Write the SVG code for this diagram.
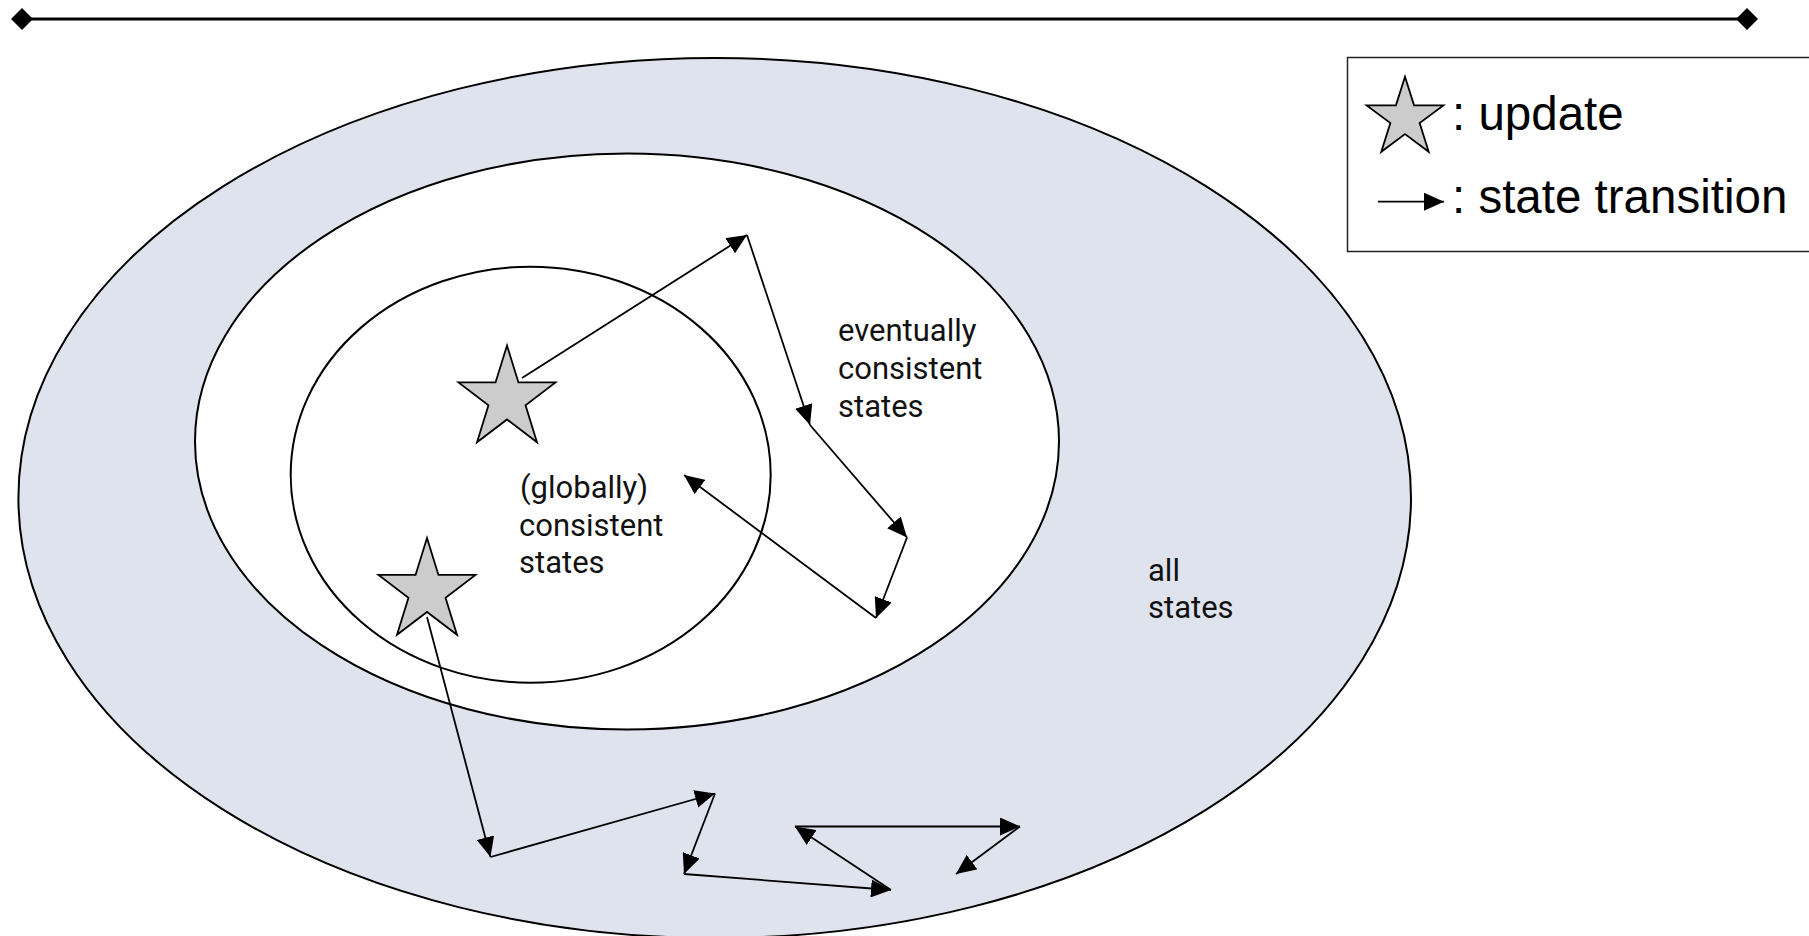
<svg xmlns="http://www.w3.org/2000/svg" width="1809" height="936" viewBox="0 0 1809 936">
<style>
.ell{stroke:#000;stroke-width:2}
.star{fill:#cccccc;stroke:#000;stroke-width:1.8;stroke-linejoin:miter}
.lbl{font-family:Roboto,"Open Sans",sans-serif;font-size:31px;fill:#111}
.leg{font-family:"Liberation Sans",Arial,sans-serif;font-size:47.5px;fill:#000}
.conn line{stroke:#000;stroke-width:1.8;marker-end:url(#ah)}
</style>
<defs>
<marker id="ah" markerUnits="userSpaceOnUse" viewBox="0 0 20 18" refX="20" refY="9" markerWidth="20" markerHeight="18" orient="auto">
<path d="M0,0 L20,9 L0,18 Z" fill="#000"/>
</marker>
<marker id="dm" markerUnits="userSpaceOnUse" viewBox="-11 -11 22 22" refX="0" refY="0" markerWidth="22" markerHeight="22" orient="auto">
<path d="M-11,0 L0,-11 L11,0 L0,11 Z" fill="#000"/>
</marker>
</defs>
<rect width="1809" height="936" fill="#fff"/>
<g id="scale-bar">
<line x1="22" y1="19" x2="1747" y2="19" stroke="#000" stroke-width="3" marker-start="url(#dm)" marker-end="url(#dm)"/>
</g>
<g id="all-states">
<ellipse class="ell" cx="714.7" cy="498" rx="696.3" ry="440" fill="#dfe3ed"/>
<text class="lbl" x="1148" y="581">all</text>
<text class="lbl" x="1148" y="618">states</text>
</g>
<g id="eventually-consistent">
<ellipse class="ell" cx="627" cy="441.5" rx="432" ry="288" fill="#fff"/>
<text class="lbl" x="838" y="340.5">eventually</text>
<text class="lbl" x="838" y="378.5">consistent</text>
<text class="lbl" x="838" y="416.5">states</text>
</g>
<g id="globally-consistent">
<ellipse class="ell" cx="530.7" cy="474.7" rx="240" ry="208" fill="none"/>
<text class="lbl" x="520" y="498.3">(globally)</text>
<text class="lbl" x="519" y="535.5">consistent</text>
<text class="lbl" x="519" y="573">states</text>
</g>
<g id="update-1">
<polygon class="star" points="507,345.5 518.45,382.47 555.5,382.47 525.53,405.31 536.99,442.28 507,419.44 477.01,442.28 488.47,405.31 458.5,382.47 495.55,382.47"/>
</g>
<g id="update-2">
<polygon class="star" points="427,538 438.45,574.97 475.5,574.97 445.53,597.81 456.99,634.78 427,611.94 397.01,634.78 408.47,597.81 378.5,574.97 415.55,574.97"/>
</g>
<g id="connectors" class="conn">
<line x1="522" y1="378" x2="747" y2="235"/>
<line x1="747" y1="235" x2="810" y2="425"/>
<line x1="810" y1="425" x2="907" y2="537.5"/>
<line x1="907" y1="537.5" x2="876" y2="618"/>
<line x1="876" y1="618" x2="684" y2="475"/>
<line x1="427" y1="617" x2="490.5" y2="857"/>
<line x1="490.5" y1="857" x2="715" y2="793.5"/>
<line x1="715" y1="793.5" x2="684" y2="874"/>
<line x1="684" y1="874" x2="891" y2="890"/>
<line x1="891" y1="890" x2="795" y2="826.5"/>
<line x1="795" y1="826.5" x2="1020" y2="826.5"/>
<line x1="1020" y1="826.5" x2="956" y2="874"/>
</g>
<g id="legend">
<rect x="1347.5" y="57.5" width="470" height="194" fill="#fff" stroke="#222" stroke-width="1.5"/>
<polygon class="star" points="1405,76.7 1414.05,105.38 1443.33,105.38 1419.64,123.1 1428.7,151.77 1405,134.05 1381.3,151.77 1390.36,123.1 1366.67,105.38 1395.95,105.38"/>
<text class="leg" x="1452" y="130">: update</text>
<g class="conn"><line x1="1378" y1="201.7" x2="1444" y2="201.7"/></g>
<text class="leg" x="1452" y="212.7">: state transition</text>
</g>
</svg>
